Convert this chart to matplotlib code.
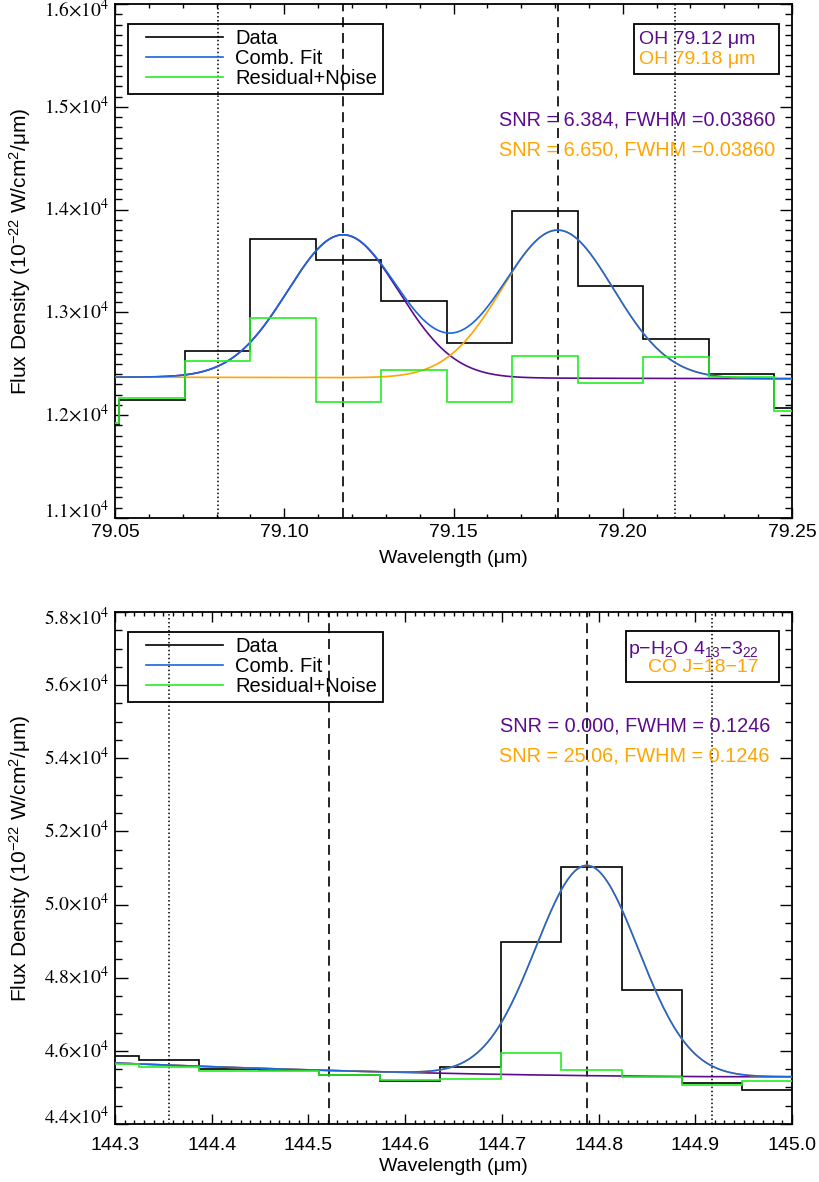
import numpy as np
import matplotlib
matplotlib.use("Agg")
import matplotlib.pyplot as plt
import matplotlib.transforms as mtransforms
from matplotlib.patches import Rectangle
from matplotlib.ticker import MultipleLocator, FuncFormatter

plt.rcParams['font.family'] = ['Liberation Sans', 'DejaVu Sans']
plt.rcParams['mathtext.fontset'] = 'stix'
plt.rcParams['mathtext.rm'] = 'Liberation Sans'
plt.rcParams['mathtext.it'] = 'Liberation Sans:italic'
plt.rcParams['mathtext.bf'] = 'Liberation Sans:bold'

# Colours
PURPLE = '#5B0C8C'
ORANGE = '#FFA500'
BLUE = '#1A66DC'
GREEN = '#22EE22'

# ---- OH 79 um panel ----
wl_oh = [79.0415, 79.0609, 79.0802, 79.0996, 79.1189, 79.1383,
         79.1576, 79.1770, 79.1963, 79.2157, 79.2350, 79.2544]
flux_oh = [11905, 12151, 12628, 13714, 13507, 13115,
           12704, 13984, 13254, 12744, 12405, 12070]
resid_oh = [11921, 12168, 12530, 12948, 12125, 12441,
            12125, 12579, 12316, 12563, 12375, 12037]
oh_centers = [79.1174, 79.1808]
oh_peaks = [1390, 1440]
oh_fwhm = 0.0386
oh_cont = [12370, -75]          # value at 79.05, slope per um
oh_dashed = [79.1174, 79.1808]
oh_dotted = [79.0803, 79.2153]
oh_names = ['OH 79.12 μm', 'OH 79.18 μm']
oh_snr = ['SNR = 6.384, FWHM =0.03860', 'SNR = 6.650, FWHM =0.03860']

# ---- 144.5 um panel ----
wl_co = [144.2935, 144.3556, 144.4173, 144.4798, 144.5428, 144.6052,
         144.6674, 144.7299, 144.7926, 144.8550, 144.9173, 144.9796]
flux_co = [45867, 45738, 45510, 45470, 45340, 45172,
           45569, 48985, 51030, 47674, 45112, 44933]
resid_co = [45638, 45569, 45440, 45460, 45340, 45211,
            45241, 45936, 45470, 45291, 45072, 45172]
co_centers = [144.518, 144.788]
co_peaks = [0.0, 5748]
co_fwhm = 0.1246
co_cont = [45668, -1101, 804]   # quadratic in (lambda - 144.3)
co_dashed = [144.5208, 144.7877]
co_dotted = [144.3556, 144.9169]
co_names = ['p−H$_2$O 4$_{13}$−3$_{22}$', 'CO J=18−17']
co_snr = ['SNR = 0.000, FWHM = 0.1246', 'SNR = 25.06, FWHM = 0.1246']

FIG_W, FIG_H = 820, 1182
fig = plt.figure(figsize=(FIG_W / 100, FIG_H / 100), dpi=100)


def gauss(x, c, a, fwhm):
    return a * np.exp(-4 * np.log(2) * (x - c) ** 2 / fwhm ** 2)


def stair_edges(wl):
    wl = np.asarray(wl)
    mids = (wl[:-1] + wl[1:]) / 2
    return np.concatenate([[2 * wl[0] - mids[0]], mids, [2 * wl[-1] - mids[-1]]])


def make_axes(box):
    left, top, w, h = box
    return fig.add_axes([left / FIG_W, 1 - (top + h) / FIG_H, w / FIG_W, h / FIG_H])


def setup_axes(ax, xlim, ylim, xmaj, ymaj, ymin, xfmt, xpad, xlabelpad):
    ax.set_xlim(*xlim)
    ax.set_ylim(*ylim)
    ax.xaxis.set_major_locator(MultipleLocator(xmaj))
    ax.xaxis.set_minor_locator(MultipleLocator(0.01))
    ax.yaxis.set_major_locator(MultipleLocator(ymaj))
    ax.yaxis.set_minor_locator(MultipleLocator(ymin))
    ax.xaxis.set_major_formatter(FuncFormatter(lambda v, p: xfmt % v))
    ax.tick_params(which='both', direction='in', top=True, right=True)
    ax.tick_params(axis='x', which='major', length=7.2, width=1.0, labelsize=14, pad=xpad)
    ax.tick_params(axis='x', which='minor', length=3.2, width=1.0)
    ax.tick_params(axis='y', which='major', length=9, width=1.0, labelleft=False)
    ax.tick_params(axis='y', which='minor', length=4.8, width=1.0)
    for s in ax.spines.values():
        s.set_linewidth(1.3)
    ax.set_xlabel('Wavelength (μm)', fontsize=14, labelpad=xlabelpad)
    ax.set_ylabel('Flux Density (10$^{-22}$ W/cm$^{2}$/μm)', fontsize=15,
                  math_fontfamily='custom')

    # y tick labels in the IDL style: edge labels kept inside the axis range
    ticks = [v for v in np.arange(ylim[0], ylim[1] + ymaj / 2, ymaj)]
    base = ax.get_yaxis_transform()
    for i, v in enumerate(ticks):
        if i == 0:
            dy = 0.0
        elif i == len(ticks) - 1:
            dy = -12.8
        else:
            dy = -6.4
        tr = base + mtransforms.ScaledTranslation(-6 / 100, dy / 100, fig.dpi_scale_trans)
        ax.text(0, v, r'$%.1f{\times}10^{4}$' % (v / 1e4), transform=tr,
                ha='right', va='baseline', fontsize=14, math_fontfamily='stix')


def panel(box, wl, flux, resid, cont, centers, peaks, fwhm, dashed, dotted,
          names, snr, xlim, ylim, xmaj, ymaj, ymin, xfmt, xpad, xlabelpad,
          label_box, snr_right, snr_base, name_base, name_x, name_ha):
    left, top, w, h = box
    ax = make_axes(box)

    def fx(x):
        return (x - left) / w

    def fy(y):
        return 1 - (y - top) / h

    lam = np.linspace(xlim[0], xlim[1], 800)
    base = np.polyval(cont[::-1], lam - xlim[0])
    g1 = gauss(lam, centers[0], peaks[0], fwhm)
    g2 = gauss(lam, centers[1], peaks[1], fwhm)

    ax.stairs(flux, stair_edges(wl), baseline=None, color='black', lw=1.2, zorder=2)
    ax.plot(lam, base + g1, color=PURPLE, lw=1.2, zorder=3)
    ax.plot(lam, base + g2, color=ORANGE, lw=1.2, zorder=3)
    ax.plot(lam, base + g1 + g2, color=BLUE, lw=1.2, zorder=4)
    ax.stairs(resid, stair_edges(wl), baseline=None, color=GREEN, lw=1.2, zorder=5)

    for x in dashed:
        ax.axvline(x, color='black', lw=1.2, ls=(0, (6, 3.5)), zorder=1)
    for x in dotted:
        ax.axvline(x, color='black', lw=1.1, ls=(0, (1, 1.6)), zorder=1)

    setup_axes(ax, xlim, ylim, xmaj, ymaj, ymin, xfmt, xpad, xlabelpad)
    ax.yaxis.set_label_coords(fx(33), 0.5 + 10 / h)

    # legend box
    lb_top = top + 19.7
    ax.add_patch(Rectangle((fx(127.6), fy(lb_top + 70.4)), (382.5 - 127.6) / w, 70.4 / h,
                           transform=ax.transAxes, fill=False, lw=1.3,
                           edgecolor='black', clip_on=False, zorder=6))
    for k, (lab, col) in enumerate([('Data', 'black'), ('Comb. Fit', BLUE),
                                    ('Residual+Noise', GREEN)]):
        ry = lb_top + 13.5 + 20 * k
        ax.plot([fx(146), fx(223)], [fy(ry), fy(ry)], color=col, lw=1.2,
                transform=ax.transAxes, clip_on=False, zorder=6)
        ax.text(fx(235.5), fy(ry + 6.5), lab, transform=ax.transAxes,
                fontsize=14.5, va='baseline', ha='left', zorder=6)

    # line name box
    bx0, by0, bx1, by1 = label_box
    ax.add_patch(Rectangle((fx(bx0), fy(by1)), (bx1 - bx0) / w, (by1 - by0) / h,
                           transform=ax.transAxes, fill=False, lw=1.3,
                           edgecolor='black', clip_on=False, zorder=6))
    for k, col in enumerate([PURPLE, ORANGE]):
        ax.text(fx(name_x), fy(name_base[k]), names[k], color=col, fontsize=14,
                transform=ax.transAxes, va='baseline', ha=name_ha,
                math_fontfamily='custom', zorder=6)
        ax.text(fx(snr_right), fy(snr_base[k]), snr[k], color=col, fontsize=14.3,
                transform=ax.transAxes, va='baseline', ha='right', zorder=6)
    return ax


panel((115, 4, 677, 514), wl_oh, flux_oh, resid_oh, oh_cont, oh_centers,
      oh_peaks, oh_fwhm, oh_dashed, oh_dotted, oh_names, oh_snr,
      (79.05, 79.25), (11000, 16000), 0.05, 1000, 100, '%.2f', 4, 7,
      (633.8, 23.7, 779, 73.8), 775, [125, 155], [44.3, 64.3], 639, 'left')

panel((115, 612, 677, 512), wl_co, flux_co, resid_co, co_cont, co_centers,
      co_peaks, co_fwhm, co_dashed, co_dotted, co_names, co_snr,
      (144.3, 145.0), (44000, 58000), 0.1, 2000, 500, '%.1f', 9, 3,
      (626, 631, 779, 681.5), 770, [731.5, 761.5], [654, 671.7], 759, 'right')

fig.savefig('out.png', dpi=100)
